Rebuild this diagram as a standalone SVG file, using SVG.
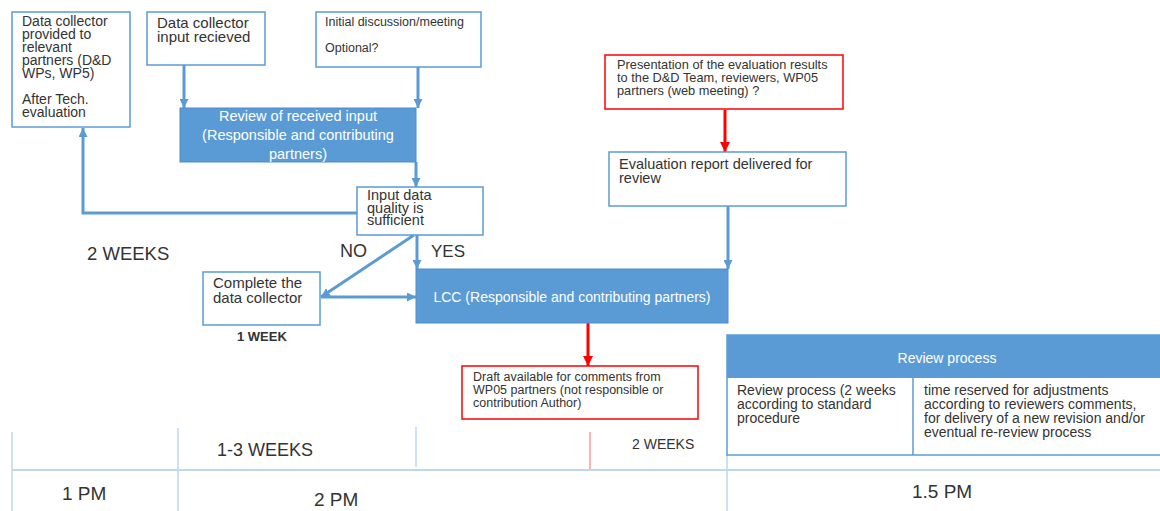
<svg xmlns="http://www.w3.org/2000/svg" width="1160" height="511" viewBox="0 0 1160 511">
<style>
text{font-family:"Liberation Sans",Arial,sans-serif;fill:#333;}
.box{fill:#fff;stroke:#5B9BD5;stroke-width:1.5;}
.rbox{fill:#fff;stroke:#FF0000;stroke-width:1.5;}
.fill{fill:#5B9BD5;stroke:#4F8CC9;stroke-width:1;}
.w{fill:#fff;}
.con{fill:none;stroke:#5B9BD5;stroke-width:3;}
.red{fill:none;stroke:#FF0000;stroke-width:3;}
.tl{stroke:#9DC3E6;stroke-width:1;fill:none;}
</style>
<defs>
<marker id="ab" viewBox="0 0 10 10" refX="10" refY="5" markerWidth="9" markerHeight="9" markerUnits="userSpaceOnUse" orient="auto"><path d="M0,0 L10,5 L0,10 z" fill="#5B9BD5"/></marker>
<marker id="ar" viewBox="0 0 10 10" refX="10" refY="5" markerWidth="10" markerHeight="10" markerUnits="userSpaceOnUse" orient="auto"><path d="M0,0 L10,5 L0,10 z" fill="#FF0000"/></marker>
</defs>
<rect width="1160" height="511" fill="#fff"/>

<g id="timeline">
<line class="tl" x1="12" y1="432" x2="12" y2="511"/>
<line class="tl" x1="178" y1="428" x2="178" y2="511"/>
<line class="tl" x1="416" y1="427" x2="416" y2="467"/>
<line x1="590" y1="432" x2="590" y2="470" stroke="#FF6060" stroke-width="1"/>
<line class="tl" x1="727" y1="455" x2="727" y2="511"/>
<line x1="12" y1="470" x2="1160" y2="470" stroke="#BDD7EE" stroke-width="2"/>
<text x="217" y="456" font-size="18">1-3 WEEKS</text>
<text x="632" y="449" font-size="14">2 WEEKS</text>
<text x="62" y="500" font-size="19">1 PM</text>
<text x="314" y="506" font-size="19">2 PM</text>
<text x="912" y="498" font-size="19">1.5 PM</text>
</g>

<g id="connectors">
<line class="con" x1="184" y1="65" x2="184" y2="108" marker-end="url(#ab)"/>
<line class="con" x1="418" y1="67" x2="418" y2="108" marker-end="url(#ab)"/>
<line class="con" x1="416" y1="162" x2="416" y2="187" marker-end="url(#ab)"/>
<polyline class="con" points="357,213 83,213 83,128" marker-end="url(#ab)"/>
<line class="con" x1="417" y1="235" x2="417" y2="269" marker-end="url(#ab)"/>
<line class="con" x1="414" y1="235" x2="321" y2="297" marker-end="url(#ab)"/>
<line class="con" x1="321" y1="297" x2="416" y2="297" marker-end="url(#ab)"/>
<line class="red" x1="588" y1="323" x2="588" y2="366" marker-end="url(#ar)"/>
<line class="red" x1="725" y1="110" x2="725" y2="152" marker-end="url(#ar)"/>
<line class="con" x1="728" y1="206" x2="728" y2="269" marker-end="url(#ab)"/>
<text x="340" y="257" font-size="18">NO</text>
<text x="431" y="257" font-size="17">YES</text>
</g>

<g id="box-provided">
<rect class="box" x="12" y="12" width="118" height="115"/>
<text font-size="14"><tspan x="22" y="26">Data collector</tspan><tspan x="22" y="39">provided to</tspan><tspan x="22" y="52">relevant</tspan><tspan x="22" y="65">partners (D&amp;D</tspan><tspan x="22" y="78">WPs, WP5)</tspan><tspan x="22" y="104">After Tech.</tspan><tspan x="22" y="117">evaluation</tspan></text>
</g>

<g id="box-received">
<rect class="box" x="147" y="12" width="118" height="53"/>
<text font-size="15"><tspan x="157" y="28">Data collector</tspan><tspan x="157" y="42">input recieved</tspan></text>
</g>

<g id="box-initial">
<rect class="box" x="316" y="12" width="165" height="55"/>
<text font-size="12.5"><tspan x="325" y="26">Initial discussion/meeting</tspan><tspan x="325" y="52">Optional?</tspan></text>
</g>

<g id="box-review">
<rect class="fill" x="180" y="108" width="236" height="54"/>
<text font-size="14.5" text-anchor="middle" class="w"><tspan x="298" y="121" class="w">Review of received input</tspan><tspan x="298" y="140" class="w">(Responsible and contributing</tspan><tspan x="298" y="159" class="w">partners)</tspan></text>
</g>

<g id="box-quality">
<rect class="box" x="357" y="187" width="126" height="48"/>
<text font-size="14.5"><tspan x="367" y="200">Input data</tspan><tspan x="367" y="212.5">quality is</tspan><tspan x="367" y="225">sufficient</tspan></text>
</g>

<g id="label-2weeks">
<text x="87" y="260" font-size="18.5">2 WEEKS</text>
</g>

<g id="box-complete">
<rect class="box" x="203" y="272" width="117" height="53"/>
<text font-size="15"><tspan x="213" y="288">Complete the</tspan><tspan x="213" y="303">data collector</tspan></text>
<text x="237" y="341" font-size="13" font-weight="bold" fill="#222">1 WEEK</text>
</g>

<g id="box-lcc">
<rect class="fill" x="416" y="269" width="312" height="54"/>
<text x="572" y="302" font-size="14" text-anchor="middle" class="w">LCC (Responsible and contributing partners)</text>
</g>

<g id="box-draft">
<rect class="rbox" x="462" y="366" width="236" height="53"/>
<text font-size="12.5"><tspan x="473" y="381">Draft available for comments from</tspan><tspan x="473" y="394">WP05 partners (not responsible or</tspan><tspan x="473" y="407">contribution Author)</tspan></text>
</g>

<g id="box-presentation">
<rect class="rbox" x="605" y="55" width="238" height="54"/>
<text font-size="12.8"><tspan x="617" y="69">Presentation of the evaluation results</tspan><tspan x="617" y="82">to the D&amp;D Team, reviewers, WP05</tspan><tspan x="617" y="95">partners (web meeting) ?</tspan></text>
</g>

<g id="box-evaluation">
<rect class="box" x="609" y="152" width="237" height="54"/>
<text font-size="14.5"><tspan x="619" y="169">Evaluation report delivered for</tspan><tspan x="619" y="183">review</tspan></text>
</g>

<g id="table-review">
<rect class="box" x="727" y="335" width="445" height="120"/>
<rect x="727" y="335" width="445" height="43" fill="#5B9BD5"/>
<line x1="913" y1="378" x2="913" y2="455" stroke="#5B9BD5" stroke-width="1.5"/>
<text x="947" y="363" font-size="14" text-anchor="middle" class="w">Review process</text>
<text font-size="14"><tspan x="737" y="395">Review process (2 weeks</tspan><tspan x="737" y="409">according to standard</tspan><tspan x="737" y="423">procedure</tspan></text>
<text font-size="14"><tspan x="924" y="395">time reserved for adjustments</tspan><tspan x="924" y="409">according to reviewers comments,</tspan><tspan x="924" y="423">for delivery of a new revision and/or</tspan><tspan x="924" y="437">eventual re-review process</tspan></text>
</g>
</svg>
